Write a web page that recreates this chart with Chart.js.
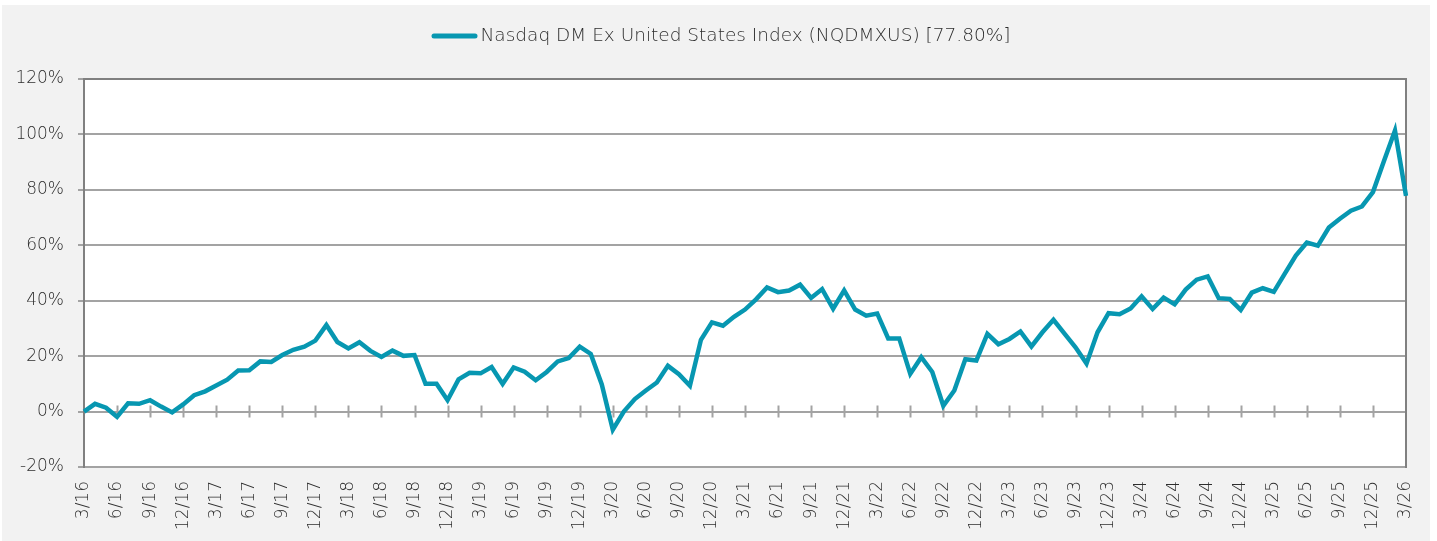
<!DOCTYPE html>
<html><head><meta charset="utf-8">
<script src="https://cdn.jsdelivr.net/npm/chart.js@4.4.1/dist/chart.umd.min.js"></script>
<style>
html,body{margin:0;padding:0;background:#fff;width:1437px;height:541px;overflow:hidden}
#wrap{position:absolute;left:2px;top:5px;width:1428px;height:536px;background:#f2f2f2}
canvas{display:block}
</style></head><body>
<div id="wrap"><canvas id="c" width="1428" height="536"></canvas></div>
<script>
const seriesLabel = 'Nasdaq DM Ex United States Index (NQDMXUS) [77.80%]';

const months = [
 '3/16','4/16','5/16','6/16','7/16','8/16','9/16','10/16','11/16','12/16',
 '1/17','2/17','3/17','4/17','5/17','6/17','7/17','8/17','9/17','10/17','11/17','12/17',
 '1/18','2/18','3/18','4/18','5/18','6/18','7/18','8/18','9/18','10/18','11/18','12/18',
 '1/19','2/19','3/19','4/19','5/19','6/19','7/19','8/19','9/19','10/19','11/19','12/19',
 '1/20','2/20','3/20','4/20','5/20','6/20','7/20','8/20','9/20','10/20','11/20','12/20',
 '1/21','2/21','3/21','4/21','5/21','6/21','7/21','8/21','9/21','10/21','11/21','12/21',
 '1/22','2/22','3/22','4/22','5/22','6/22','7/22','8/22','9/22','10/22','11/22','12/22',
 '1/23','2/23','3/23','4/23','5/23','6/23','7/23','8/23','9/23','10/23','11/23','12/23',
 '1/24','2/24','3/24','4/24','5/24','6/24','7/24','8/24','9/24','10/24','11/24','12/24',
 '1/25','2/25','3/25','4/25','5/25','6/25','7/25','8/25','9/25','10/25','11/25','12/25',
 '1/26','2/26','3/26'
];

const values = [
 0, 2.8, 1.4, -1.9, 3.0, 2.8, 4.1, 1.8, -0.3, 2.6,
 5.9, 7.3, 9.4, 11.5, 14.8, 14.9, 18.1, 17.9, 20.4, 22.3, 23.4, 25.6,
 31.2, 25.1, 22.8, 25.0, 21.9, 19.7, 22.0, 20.1, 20.4, 10.0, 10.0, 4.1,
 11.6, 14.0, 13.8, 16.1, 10.0, 15.9, 14.4, 11.3, 14.3, 18.1, 19.3, 23.4,
 20.8, 9.8, -6.5, 0, 4.5, 7.6, 10.5, 16.5, 13.5, 9.3, 25.9, 32.2,
 31.0, 34.2, 36.8, 40.5, 44.8, 43.1, 43.7, 45.8, 41.0, 44.2, 37.1, 43.7,
 36.8, 34.6, 35.4, 26.4, 26.4, 13.6, 19.6, 14.3, 2.1, 7.6, 18.9, 18.4,
 28.0, 24.3, 26.2, 28.9, 23.5, 28.6, 33.1, 28.1, 23.2, 17.3, 28.6, 35.5,
 35.1, 37.2, 41.6, 37.0, 41.1, 38.7, 44.0, 47.6, 48.8, 40.9, 40.6, 36.7,
 42.9, 44.5, 43.2, 49.8, 56.3, 61.0, 59.9, 66.4, 69.6, 72.5, 74.0, 79.2,
 90.4, 101.4, 77.8
];

const quarterTicks = [
 '3/16','6/16','9/16','12/16','3/17','6/17','9/17','12/17','3/18','6/18','9/18','12/18',
 '3/19','6/19','9/19','12/19','3/20','6/20','9/20','12/20','3/21','6/21','9/21','12/21',
 '3/22','6/22','9/22','12/22','3/23','6/23','9/23','12/23','3/24','6/24','9/24','12/24',
 '3/25','6/25','9/25','12/25','3/26'
];

const yMin = -20, yMax = 120, yStep = 20;

const lineColor = '#0797b1';
const gridColor = '#a3a3a3';
const axisColor = '#808080';
const textColor = '#2e2e2e';
const FONT = {family: '"DejaVu Sans", sans-serif', weight: '200', size: 17};
const LEGEND_SIZE = 18.5;

const frame = {
  id: 'frame',
  beforeDraw(chart) {
    const {ctx, chartArea: a} = chart;
    ctx.save();
    ctx.fillStyle = '#ffffff';
    ctx.fillRect(a.left, a.top, a.right - a.left, a.bottom - a.top);
    ctx.restore();
  },
  beforeDatasetsDraw(chart) {
    const {ctx, chartArea: a, scales: {x, y}} = chart;
    const y0 = y.getPixelForValue(0);
    ctx.save();
    ctx.strokeStyle = gridColor;
    ctx.lineWidth = 2;
    ctx.beginPath();
    months.forEach((m, i) => {
      if (quarterTicks.includes(m) && i > 0 && i < months.length - 1) {
        const px = Math.round(x.getPixelForValue(i)) + 0.5;
        ctx.moveTo(px, y0 - 6);
        ctx.lineTo(px, y0 + 6);
      }
    });
    ctx.stroke();
    ctx.strokeStyle = axisColor;
    ctx.lineWidth = 2;
    ctx.beginPath();
    ctx.moveTo(a.right, a.top - 1);
    ctx.lineTo(a.right, a.bottom + 1);
    ctx.stroke();
    ctx.beginPath();
    ctx.moveTo(a.left, a.top);
    ctx.lineTo(a.right, a.top);
    ctx.stroke();
    ctx.restore();
  },
  afterDraw(chart) {
    const {ctx} = chart;
    ctx.save();
    ctx.font = `${FONT.weight} ${LEGEND_SIZE}px ${FONT.family}`;
    const label = chart.data.datasets[0].label;
    const tw = ctx.measureText(label).width;
    const sw = 46, gap = 3;
    const total = sw + gap + tw;
    const cx = 719, cy = 31;
    const x0 = cx - total / 2;
    ctx.strokeStyle = lineColor;
    ctx.lineWidth = 5;
    ctx.lineCap = 'round';
    ctx.beginPath();
    ctx.moveTo(x0 + 2.5, cy);
    ctx.lineTo(x0 + sw - 2.5, cy);
    ctx.stroke();
    ctx.fillStyle = textColor;
    ctx.textBaseline = 'middle';
    ctx.textAlign = 'left';
    ctx.fillText(label, x0 + sw + gap, cy);
    ctx.restore();
  }
};

new Chart(document.getElementById('c'), {
  type: 'line',
  data: {
    labels: months,
    datasets: [{
      label: seriesLabel,
      data: values,
      borderColor: lineColor,
      backgroundColor: lineColor,
      borderWidth: 4.5,
      pointRadius: 0,
      tension: 0,
      fill: false,
      borderJoinStyle: 'miter'
    }]
  },
  options: {
    responsive: false,
    animation: false,
    devicePixelRatio: 1,
    layout: {padding: {left: 0, right: 24, top: 74, bottom: 0}},
    plugins: {legend: {display: false}, tooltip: {enabled: false}},
    scales: {
      x: {
        type: 'category',
        offset: false,
        grid: {display: false, drawTicks: false},
        border: {display: true, color: gridColor, width: 2},
        ticks: {
          autoSkip: false,
          minRotation: 90,
          maxRotation: 90,
          padding: 14,
          color: textColor,
          font: FONT,
          callback: (v, i) => quarterTicks.includes(months[i]) ? months[i] : ''
        },
        afterFit: (s) => { s.height = 536 - 462; s.paddingRight = 0; s.paddingLeft = 0; }
      },
      y: {
        min: yMin,
        max: yMax,
        grid: {color: gridColor, lineWidth: 2, tickLength: 6, drawTicks: true},
        border: {display: true, color: axisColor, width: 2},
        ticks: {
          stepSize: yStep,
          padding: 14,
          color: textColor,
          font: FONT,
          callback: (v) => v + '%'
        },
        afterFit: (s) => { s.width = 82; s.paddingTop = 0; s.paddingBottom = 0; }
      }
    }
  },
  plugins: [frame]
});
</script>
</body></html>
